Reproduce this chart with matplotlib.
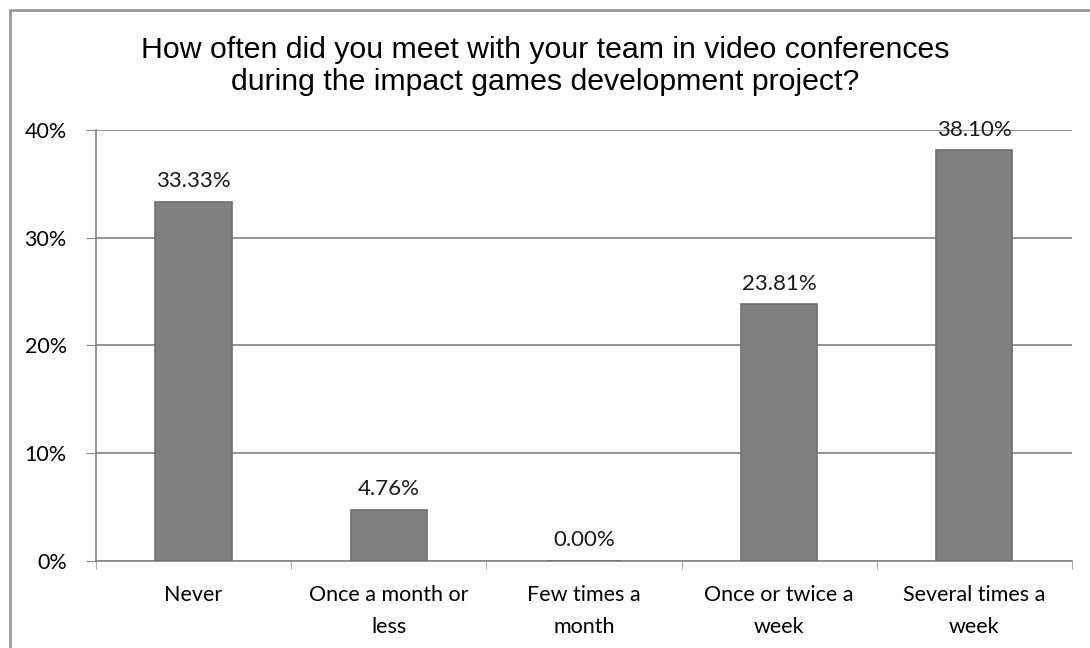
import matplotlib.pyplot as plt
from matplotlib.patches import Rectangle
import numpy as np

categories = ['Never', 'Once a month or\nless', 'Few times a\nmonth',
              'Once or twice a\nweek', 'Several times a\nweek']
shares = [33.33, 4.76, 0.00, 23.81, 38.10]
yticks = [0, 10, 20, 30, 40]
title = ('How often did you meet with your team in video conferences\n'
         'during the impact games development project?')

fig = plt.figure(figsize=(10.9, 6.48), dpi=100)
ax = fig.add_axes([0.088, 0.1343, 0.8955, 0.6651])

x = np.arange(len(categories))
ax.bar(x, shares, width=0.39, color='#808080', edgecolor='#6e6e6e',
       linewidth=1.2, zorder=3)

for xi, v in zip(x, shares):
    ax.text(xi, v + 1.0, f'{v:.2f}%', ha='center', va='bottom',
            fontsize=16, family='Lato', color='#1a1a1a', zorder=4)

ax.set_xlim(-0.5, len(categories) - 0.5)
ax.set_ylim(0, 40)
ax.set_yticks(yticks)
ax.set_yticklabels([f'{t}%' for t in yticks], family='Lato', fontsize=15.5)
ax.set_xticks(x)
ax.set_xticklabels(categories, family='Lato', fontsize=15.5,
                   linespacing=1.8)
ax.tick_params(axis='x', length=0, pad=17)
ax.tick_params(axis='y', length=7, color='#888888', pad=14)

# small ticks between categories
ax.set_xticks(np.arange(-0.5, len(categories)), minor=True)
ax.tick_params(axis='x', which='minor', length=6, color='#999999')

ax.yaxis.grid(True, color='#8a8a8a', linewidth=1.3, zorder=0)
for s in ['top', 'right']:
    ax.spines[s].set_visible(False)
for s in ['left', 'bottom']:
    ax.spines[s].set_color('#8a8a8a')
    ax.spines[s].set_linewidth(1.3)

fig.text(0.5, 0.898, title, ha='center', va='center', fontsize=21.8,
         family='Liberation Sans', linespacing=1.17)

# outer chart border
fig.patches.append(Rectangle((10 / 1090, -0.05), 1.1, 1 - 10 / 648 + 0.05,
                             transform=fig.transFigure, fill=False,
                             edgecolor='#9a9a9a', linewidth=2))

fig.savefig('out.png', dpi=100)
